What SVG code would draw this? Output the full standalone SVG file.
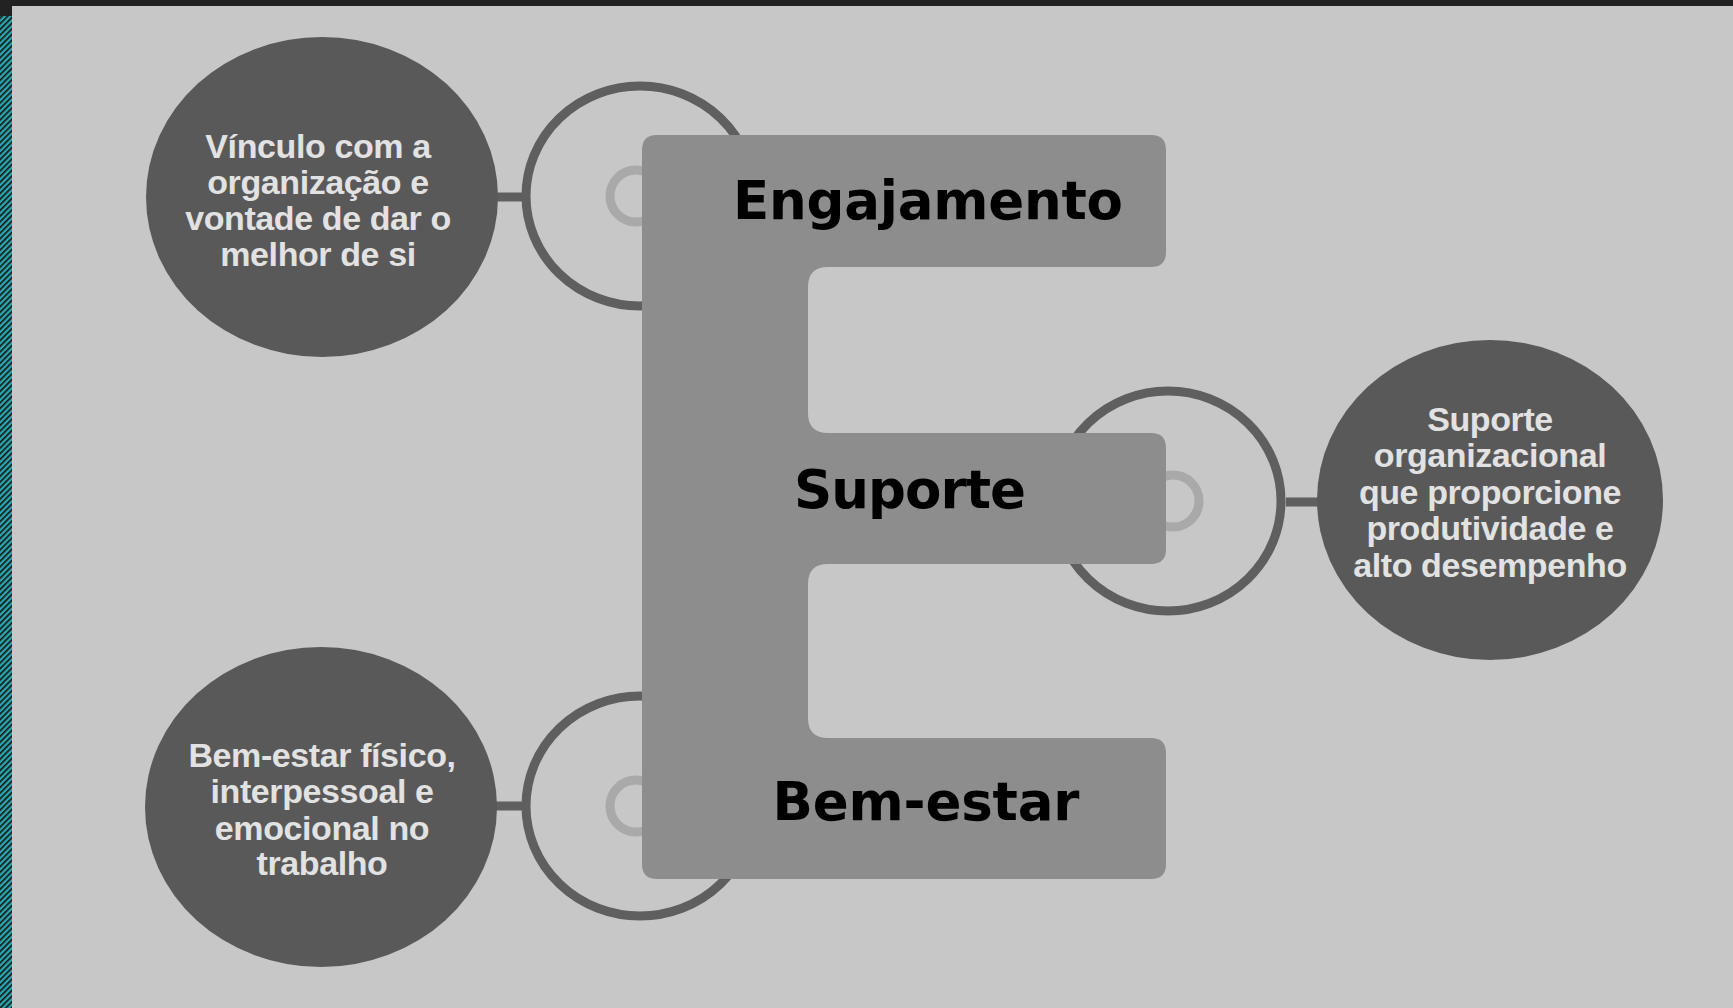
<svg xmlns="http://www.w3.org/2000/svg" width="1733" height="1008" viewBox="0 0 1733 1008">
  <defs>
    <pattern id="stripes" width="4" height="4" patternUnits="userSpaceOnUse" patternTransform="rotate(45)">
      <rect width="4" height="4" fill="#2aa7ae"/>
      <rect width="1.6" height="4" fill="#111"/>
    </pattern>
    <style>
      .ring { fill: none; stroke: #5f5f5f; stroke-width: 9; }
      .small { fill: none; stroke: #a9a9a9; stroke-width: 9; }
      .link { stroke: #5f5f5f; stroke-width: 9; }
      .dark { fill: #595959; }
      .ctext { font-family: "Liberation Sans", Arial, sans-serif; font-weight: bold; font-size: 34px; letter-spacing: -0.4px; fill: #e2e2e2; text-anchor: middle; }
      .label { font-family: "DejaVu Sans", "Noto Sans", sans-serif; font-weight: bold; font-size: 53px; fill: #000; text-anchor: middle; }
    </style>
  </defs>

  <rect x="0" y="0" width="1733" height="1008" fill="#c7c7c7"/>
  <rect x="0" y="0" width="1733" height="6" fill="#222"/>
  <rect x="0" y="0" width="12" height="16" fill="#222"/>
  <rect x="0" y="16" width="12" height="992" fill="url(#stripes)"/>

  <g id="connectors">
    <line class="link" x1="495" y1="197" x2="526" y2="197"/>
    <line class="link" x1="1286" y1="502" x2="1320" y2="502"/>
    <line class="link" x1="495" y1="806" x2="526" y2="806"/>
    <ellipse class="ring" cx="640" cy="196" rx="114" ry="110"/>
    <ellipse class="ring" cx="1168" cy="501" rx="113" ry="110"/>
    <ellipse class="ring" cx="640" cy="806" rx="114" ry="110"/>
    <circle class="small" cx="636" cy="196" r="26"/>
    <circle class="small" cx="1173" cy="501" r="26"/>
    <circle class="small" cx="636" cy="806" r="26"/>
  </g>

  <g id="node-vinculo">
    <ellipse class="dark" cx="322" cy="197" rx="176" ry="160"/>
    <text class="ctext" x="318" y="158">Vínculo com a</text>
    <text class="ctext" x="318" y="194">organização e</text>
    <text class="ctext" x="318" y="230">vontade de dar o</text>
    <text class="ctext" x="318" y="266">melhor de si</text>
  </g>

  <g id="node-suporte-org">
    <ellipse class="dark" cx="1490" cy="500" rx="173" ry="160"/>
    <text class="ctext" x="1490" y="431">Suporte</text>
    <text class="ctext" x="1490" y="467">organizacional</text>
    <text class="ctext" x="1490" y="504">que proporcione</text>
    <text class="ctext" x="1490" y="540">produtividade e</text>
    <text class="ctext" x="1490" y="577">alto desempenho</text>
  </g>

  <g id="node-bemestar-desc">
    <ellipse class="dark" cx="321" cy="807" rx="176" ry="160"/>
    <text class="ctext" x="322" y="767">Bem-estar físico,</text>
    <text class="ctext" x="322" y="803">interpessoal e</text>
    <text class="ctext" x="322" y="840">emocional no</text>
    <text class="ctext" x="322" y="875">trabalho</text>
  </g>

  <g id="node-E">
    <path fill="#8d8d8d" d="M 657,135 H 1151 Q 1166,135 1166,150 V 252 Q 1166,267 1151,267 H 828 Q 808,267 808,287 V 413 Q 808,433 828,433 H 1151 Q 1166,433 1166,448 V 549 Q 1166,564 1151,564 H 828 Q 808,564 808,584 V 718 Q 808,738 828,738 H 1151 Q 1166,738 1166,753 V 864 Q 1166,879 1151,879 H 657 Q 642,879 642,864 V 150 Q 642,135 657,135 Z"/>
    <text class="label" x="928" y="219" textLength="390">Engajamento</text>
    <text class="label" x="910" y="508" textLength="232">Suporte</text>
    <text class="label" x="926" y="820" textLength="307">Bem-estar</text>
  </g>
</svg>
